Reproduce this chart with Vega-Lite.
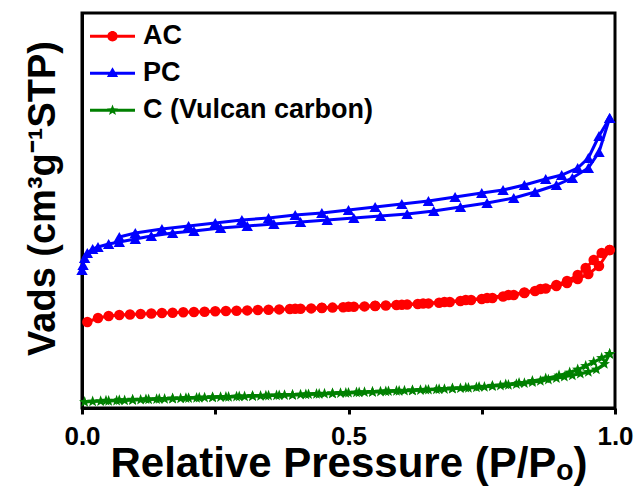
{
"$schema": "https://vega.github.io/schema/vega-lite/v6.json",
"width": 533, "height": 395,
"autosize": {"type": "none"},
"padding": {"left": 82, "top": 13, "right": 24, "bottom": 89},
"config": {"view": {"stroke": "black", "strokeWidth": 3}, "font": "Liberation Sans",
  "axisX": {"labelFontSize": 26, "labelFont": "Liberation Sans", "labelFontWeight": "bold"},
  "legend": {"orient": "none", "legendX": 8, "legendY": 6, "padding": 0, "labelFont": "Liberation Sans", "labelFontSize": 27,
    "labelFontWeight": "bold", "labelColor": "black", "symbolSize": 2025, "clipHeight": 34.5, "labelOffset": 8, "labelLimit": 400, "symbolOpacity": 1, "symbolStrokeWidth": 0}},
"data": {"values": [
{"s":"PC","b":"a","x":0,"y":138},{"s":"PC","b":"a","x":0.002,"y":143},{"s":"PC","b":"a","x":0.005,"y":150},{"s":"PC","b":"a","x":0.01,"y":155},{"s":"PC","b":"a","x":0.02,"y":159},{"s":"PC","b":"a","x":0.03,"y":161},{"s":"PC","b":"a","x":0.05,"y":164},{"s":"PC","b":"a","x":0.07,"y":166},{"s":"PC","b":"a","x":0.1,"y":169},{"s":"PC","b":"a","x":0.13,"y":172},{"s":"PC","b":"a","x":0.17,"y":175},{"s":"PC","b":"a","x":0.21,"y":177},{"s":"PC","b":"a","x":0.26,"y":180},{"s":"PC","b":"a","x":0.31,"y":182},{"s":"PC","b":"a","x":0.36,"y":184},{"s":"PC","b":"a","x":0.41,"y":186},{"s":"PC","b":"a","x":0.46,"y":188},{"s":"PC","b":"a","x":0.51,"y":190},{"s":"PC","b":"a","x":0.56,"y":192},{"s":"PC","b":"a","x":0.61,"y":194},{"s":"PC","b":"a","x":0.66,"y":197},{"s":"PC","b":"a","x":0.71,"y":201},{"s":"PC","b":"a","x":0.76,"y":205},{"s":"PC","b":"a","x":0.81,"y":210},{"s":"PC","b":"a","x":0.85,"y":216},{"s":"PC","b":"a","x":0.89,"y":223},{"s":"PC","b":"a","x":0.92,"y":230},{"s":"PC","b":"a","x":0.95,"y":240},{"s":"PC","b":"a","x":0.97,"y":256},{"s":"PC","b":"a","x":0.99,"y":290},
{"s":"PC","b":"d","x":0.99,"y":290},{"s":"PC","b":"d","x":0.97,"y":272},{"s":"PC","b":"d","x":0.95,"y":250},{"s":"PC","b":"d","x":0.93,"y":240},{"s":"PC","b":"d","x":0.9,"y":233},{"s":"PC","b":"d","x":0.87,"y":229},{"s":"PC","b":"d","x":0.83,"y":223},{"s":"PC","b":"d","x":0.79,"y":218},{"s":"PC","b":"d","x":0.75,"y":215},{"s":"PC","b":"d","x":0.7,"y":211},{"s":"PC","b":"d","x":0.65,"y":207},{"s":"PC","b":"d","x":0.6,"y":204},{"s":"PC","b":"d","x":0.55,"y":201},{"s":"PC","b":"d","x":0.5,"y":198},{"s":"PC","b":"d","x":0.45,"y":195},{"s":"PC","b":"d","x":0.4,"y":193},{"s":"PC","b":"d","x":0.35,"y":190},{"s":"PC","b":"d","x":0.3,"y":188},{"s":"PC","b":"d","x":0.25,"y":185},{"s":"PC","b":"d","x":0.2,"y":182},{"s":"PC","b":"d","x":0.15,"y":179},{"s":"PC","b":"d","x":0.1,"y":175},{"s":"PC","b":"d","x":0.07,"y":171},
{"s":"AC","b":"a","x":0.01,"y":86},{"s":"AC","b":"a","x":0.03,"y":90},{"s":"AC","b":"a","x":0.05,"y":92},{"s":"AC","b":"a","x":0.07,"y":93},{"s":"AC","b":"a","x":0.09,"y":93.5},{"s":"AC","b":"a","x":0.11,"y":94},{"s":"AC","b":"a","x":0.13,"y":94.5},{"s":"AC","b":"a","x":0.15,"y":95},{"s":"AC","b":"a","x":0.17,"y":95.3},{"s":"AC","b":"a","x":0.19,"y":95.7},{"s":"AC","b":"a","x":0.21,"y":96},{"s":"AC","b":"a","x":0.23,"y":96.3},{"s":"AC","b":"a","x":0.25,"y":96.7},{"s":"AC","b":"a","x":0.27,"y":97},{"s":"AC","b":"a","x":0.29,"y":97.3},{"s":"AC","b":"a","x":0.31,"y":97.6},{"s":"AC","b":"a","x":0.33,"y":98},{"s":"AC","b":"a","x":0.35,"y":98.3},{"s":"AC","b":"a","x":0.37,"y":98.6},{"s":"AC","b":"a","x":0.39,"y":99},{"s":"AC","b":"a","x":0.41,"y":99.3},{"s":"AC","b":"a","x":0.43,"y":99.6},{"s":"AC","b":"a","x":0.45,"y":100},{"s":"AC","b":"a","x":0.47,"y":100.4},{"s":"AC","b":"a","x":0.49,"y":100.8},{"s":"AC","b":"a","x":0.51,"y":101.2},{"s":"AC","b":"a","x":0.53,"y":101.6},{"s":"AC","b":"a","x":0.55,"y":102},{"s":"AC","b":"a","x":0.57,"y":102.5},{"s":"AC","b":"a","x":0.59,"y":103},{"s":"AC","b":"a","x":0.61,"y":103.5},{"s":"AC","b":"a","x":0.63,"y":104},{"s":"AC","b":"a","x":0.65,"y":104.6},{"s":"AC","b":"a","x":0.67,"y":105.3},{"s":"AC","b":"a","x":0.69,"y":106},{"s":"AC","b":"a","x":0.71,"y":107},{"s":"AC","b":"a","x":0.73,"y":108},{"s":"AC","b":"a","x":0.75,"y":109},{"s":"AC","b":"a","x":0.77,"y":110},{"s":"AC","b":"a","x":0.79,"y":111.5},{"s":"AC","b":"a","x":0.81,"y":113},{"s":"AC","b":"a","x":0.83,"y":115},{"s":"AC","b":"a","x":0.85,"y":117},{"s":"AC","b":"a","x":0.87,"y":119.5},{"s":"AC","b":"a","x":0.89,"y":122},{"s":"AC","b":"a","x":0.91,"y":125},{"s":"AC","b":"a","x":0.93,"y":129},{"s":"AC","b":"a","x":0.95,"y":134},{"s":"AC","b":"a","x":0.97,"y":142},{"s":"AC","b":"a","x":0.99,"y":158},
{"s":"AC","b":"d","x":0.99,"y":158},{"s":"AC","b":"d","x":0.975,"y":155},{"s":"AC","b":"d","x":0.96,"y":148},{"s":"AC","b":"d","x":0.945,"y":140},{"s":"AC","b":"d","x":0.93,"y":133},{"s":"AC","b":"d","x":0.91,"y":127},{"s":"AC","b":"d","x":0.89,"y":123},{"s":"AC","b":"d","x":0.86,"y":119},{"s":"AC","b":"d","x":0.83,"y":115.5},{"s":"AC","b":"d","x":0.8,"y":113},{"s":"AC","b":"d","x":0.76,"y":110},{"s":"AC","b":"d","x":0.72,"y":108},{"s":"AC","b":"d","x":0.68,"y":106},{"s":"AC","b":"d","x":0.64,"y":104.5},{"s":"AC","b":"d","x":0.6,"y":103.3},{"s":"AC","b":"d","x":0.55,"y":102.2},{"s":"AC","b":"d","x":0.5,"y":101.2},{"s":"AC","b":"d","x":0.45,"y":100.2},{"s":"AC","b":"d","x":0.4,"y":99.3},
{"s":"C (Vulcan carbon)","b":"a","x":0.005,"y":6},{"s":"C (Vulcan carbon)","b":"a","x":0.02,"y":6.5},{"s":"C (Vulcan carbon)","b":"a","x":0.035,"y":6.8},{"s":"C (Vulcan carbon)","b":"a","x":0.05,"y":7},{"s":"C (Vulcan carbon)","b":"a","x":0.065,"y":7.3},{"s":"C (Vulcan carbon)","b":"a","x":0.08,"y":7.6},{"s":"C (Vulcan carbon)","b":"a","x":0.095,"y":7.9},{"s":"C (Vulcan carbon)","b":"a","x":0.11,"y":8.2},{"s":"C (Vulcan carbon)","b":"a","x":0.125,"y":8.5},{"s":"C (Vulcan carbon)","b":"a","x":0.14,"y":8.8},{"s":"C (Vulcan carbon)","b":"a","x":0.155,"y":9},{"s":"C (Vulcan carbon)","b":"a","x":0.17,"y":9.3},{"s":"C (Vulcan carbon)","b":"a","x":0.185,"y":9.6},{"s":"C (Vulcan carbon)","b":"a","x":0.2,"y":9.9},{"s":"C (Vulcan carbon)","b":"a","x":0.215,"y":10.1},{"s":"C (Vulcan carbon)","b":"a","x":0.23,"y":10.4},{"s":"C (Vulcan carbon)","b":"a","x":0.245,"y":10.6},{"s":"C (Vulcan carbon)","b":"a","x":0.26,"y":10.9},{"s":"C (Vulcan carbon)","b":"a","x":0.275,"y":11.1},{"s":"C (Vulcan carbon)","b":"a","x":0.29,"y":11.4},{"s":"C (Vulcan carbon)","b":"a","x":0.305,"y":11.6},{"s":"C (Vulcan carbon)","b":"a","x":0.32,"y":11.9},{"s":"C (Vulcan carbon)","b":"a","x":0.335,"y":12.1},{"s":"C (Vulcan carbon)","b":"a","x":0.35,"y":12.4},{"s":"C (Vulcan carbon)","b":"a","x":0.365,"y":12.6},{"s":"C (Vulcan carbon)","b":"a","x":0.38,"y":12.9},{"s":"C (Vulcan carbon)","b":"a","x":0.395,"y":13.1},{"s":"C (Vulcan carbon)","b":"a","x":0.41,"y":13.4},{"s":"C (Vulcan carbon)","b":"a","x":0.425,"y":13.7},{"s":"C (Vulcan carbon)","b":"a","x":0.44,"y":14},{"s":"C (Vulcan carbon)","b":"a","x":0.455,"y":14.3},{"s":"C (Vulcan carbon)","b":"a","x":0.47,"y":14.6},{"s":"C (Vulcan carbon)","b":"a","x":0.485,"y":14.9},{"s":"C (Vulcan carbon)","b":"a","x":0.5,"y":15.2},{"s":"C (Vulcan carbon)","b":"a","x":0.515,"y":15.5},{"s":"C (Vulcan carbon)","b":"a","x":0.53,"y":15.8},{"s":"C (Vulcan carbon)","b":"a","x":0.545,"y":16.1},{"s":"C (Vulcan carbon)","b":"a","x":0.56,"y":16.4},{"s":"C (Vulcan carbon)","b":"a","x":0.575,"y":16.7},{"s":"C (Vulcan carbon)","b":"a","x":0.59,"y":17},{"s":"C (Vulcan carbon)","b":"a","x":0.605,"y":17.3},{"s":"C (Vulcan carbon)","b":"a","x":0.62,"y":17.6},{"s":"C (Vulcan carbon)","b":"a","x":0.635,"y":17.9},{"s":"C (Vulcan carbon)","b":"a","x":0.65,"y":18.2},{"s":"C (Vulcan carbon)","b":"a","x":0.665,"y":18.5},{"s":"C (Vulcan carbon)","b":"a","x":0.68,"y":18.9},{"s":"C (Vulcan carbon)","b":"a","x":0.695,"y":19.3},{"s":"C (Vulcan carbon)","b":"a","x":0.71,"y":19.7},{"s":"C (Vulcan carbon)","b":"a","x":0.725,"y":20.1},{"s":"C (Vulcan carbon)","b":"a","x":0.74,"y":20.6},{"s":"C (Vulcan carbon)","b":"a","x":0.755,"y":21.1},{"s":"C (Vulcan carbon)","b":"a","x":0.77,"y":21.7},{"s":"C (Vulcan carbon)","b":"a","x":0.785,"y":22.4},{"s":"C (Vulcan carbon)","b":"a","x":0.8,"y":23.1},{"s":"C (Vulcan carbon)","b":"a","x":0.815,"y":23.9},{"s":"C (Vulcan carbon)","b":"a","x":0.83,"y":24.8},{"s":"C (Vulcan carbon)","b":"a","x":0.845,"y":25.8},{"s":"C (Vulcan carbon)","b":"a","x":0.86,"y":27},{"s":"C (Vulcan carbon)","b":"a","x":0.875,"y":28.4},{"s":"C (Vulcan carbon)","b":"a","x":0.89,"y":29.8},{"s":"C (Vulcan carbon)","b":"a","x":0.905,"y":31.2},{"s":"C (Vulcan carbon)","b":"a","x":0.92,"y":32.6},{"s":"C (Vulcan carbon)","b":"a","x":0.935,"y":34.2},{"s":"C (Vulcan carbon)","b":"a","x":0.95,"y":36},{"s":"C (Vulcan carbon)","b":"a","x":0.965,"y":38.5},{"s":"C (Vulcan carbon)","b":"a","x":0.98,"y":44},{"s":"C (Vulcan carbon)","b":"a","x":0.99,"y":54},
{"s":"C (Vulcan carbon)","b":"d","x":0.99,"y":54},{"s":"C (Vulcan carbon)","b":"d","x":0.975,"y":50},{"s":"C (Vulcan carbon)","b":"d","x":0.96,"y":46},{"s":"C (Vulcan carbon)","b":"d","x":0.945,"y":42},{"s":"C (Vulcan carbon)","b":"d","x":0.93,"y":38.5},{"s":"C (Vulcan carbon)","b":"d","x":0.915,"y":35.5},{"s":"C (Vulcan carbon)","b":"d","x":0.895,"y":32.5},{"s":"C (Vulcan carbon)","b":"d","x":0.87,"y":29.5},{"s":"C (Vulcan carbon)","b":"d","x":0.845,"y":27},{"s":"C (Vulcan carbon)","b":"d","x":0.82,"y":25},{"s":"C (Vulcan carbon)","b":"d","x":0.795,"y":23.5},{"s":"C (Vulcan carbon)","b":"d","x":0.77,"y":22.2},{"s":"C (Vulcan carbon)","b":"d","x":0.745,"y":21.2},{"s":"C (Vulcan carbon)","b":"d","x":0.72,"y":20.3},{"s":"C (Vulcan carbon)","b":"d","x":0.695,"y":19.5},{"s":"C (Vulcan carbon)","b":"d","x":0.67,"y":18.8},{"s":"C (Vulcan carbon)","b":"d","x":0.645,"y":18.2},{"s":"C (Vulcan carbon)","b":"d","x":0.62,"y":17.6},{"s":"C (Vulcan carbon)","b":"d","x":0.595,"y":17.1},{"s":"C (Vulcan carbon)","b":"d","x":0.57,"y":16.6},{"s":"C (Vulcan carbon)","b":"d","x":0.545,"y":16.1},{"s":"C (Vulcan carbon)","b":"d","x":0.52,"y":15.6},{"s":"C (Vulcan carbon)","b":"d","x":0.495,"y":15.1},{"s":"C (Vulcan carbon)","b":"d","x":0.47,"y":14.6},{"s":"C (Vulcan carbon)","b":"d","x":0.445,"y":14.1},{"s":"C (Vulcan carbon)","b":"d","x":0.42,"y":13.6},{"s":"C (Vulcan carbon)","b":"d","x":0.395,"y":13.1},{"s":"C (Vulcan carbon)","b":"d","x":0.37,"y":12.7},{"s":"C (Vulcan carbon)","b":"d","x":0.345,"y":12.3},{"s":"C (Vulcan carbon)","b":"d","x":0.32,"y":11.9},{"s":"C (Vulcan carbon)","b":"d","x":0.295,"y":11.5},{"s":"C (Vulcan carbon)","b":"d","x":0.27,"y":11.1},{"s":"C (Vulcan carbon)","b":"d","x":0.245,"y":10.7},{"s":"C (Vulcan carbon)","b":"d","x":0.22,"y":10.3},{"s":"C (Vulcan carbon)","b":"d","x":0.195,"y":9.9},{"s":"C (Vulcan carbon)","b":"d","x":0.17,"y":9.5},{"s":"C (Vulcan carbon)","b":"d","x":0.145,"y":9.1},{"s":"C (Vulcan carbon)","b":"d","x":0.12,"y":8.7},{"s":"C (Vulcan carbon)","b":"d","x":0.095,"y":8.3},{"s":"C (Vulcan carbon)","b":"d","x":0.07,"y":7.8},{"s":"C (Vulcan carbon)","b":"d","x":0.045,"y":7.3}
]},
"encoding": {
  "x": {"field": "x", "type": "quantitative", "scale": {"domain": [0, 1]},
    "axis": {"values": [0, 0.25, 0.5, 0.75, 1], "labelExpr": "datum.value == 0.25 || datum.value == 0.75 ? '' : format(datum.value, '.1f')",
      "title": "Relative Pressure (P/Pₒ)", "grid": false, "domainColor": "black", "domainWidth": 3,
      "tickColor": "black", "tickWidth": 3, "tickSize": 6, "labelFont": "Liberation Sans", "labelFontSize": 26,
      "labelFontWeight": "bold", "labelColor": "black", "labelPadding": 9, "labelFlush": false, "labelOverlap": false, "labelBound": false,
      "titleFont": "Liberation Sans", "titleFontSize": 42, "titleFontWeight": "bold", "titleColor": "black", "titlePadding": -6}},
  "y": {"field": "y", "type": "quantitative", "scale": {"domain": [0, 395]},
    "axis": {"title": "Vads (cm³g⁻¹STP)", "labels": false, "ticks": false, "grid": false, "domainColor": "black", "domainWidth": 3,
      "titleFont": "Liberation Sans", "titleFontSize": 38, "titleFontWeight": "bold", "titleColor": "black", "titlePadding": 20, "titleY": 185}}
},
"layer": [
  {"transform": [{"filter": "datum.s == 'AC'"}], "mark": {"type": "line", "strokeWidth": 3, "color": "#FF0000"}, "encoding": {"detail": {"field": "b"}}},
  {"transform": [{"filter": "datum.s == 'PC'"}], "mark": {"type": "line", "strokeWidth": 3, "color": "#0000FF"}, "encoding": {"detail": {"field": "b"}}},
  {"transform": [{"filter": "datum.s == 'C (Vulcan carbon)'"}], "mark": {"type": "line", "strokeWidth": 3, "color": "#008000"}, "encoding": {"detail": {"field": "b"}}},
  {"transform": [{"filter": "datum.s == 'AC'"}],
   "mark": {"type": "point", "shape": "circle", "filled": true, "opacity": 1, "size": 110, "color": "#FF0000"}},
  {"transform": [{"filter": "datum.s == 'PC'"}],
   "mark": {"type": "point", "shape": "triangle-up", "filled": true, "opacity": 1, "size": 130, "color": "#0000FF"}},
  {"transform": [{"filter": "datum.s == 'C (Vulcan carbon)'"}],
   "mark": {"type": "point", "shape": "M0,-1L0.247,-0.34L0.951,-0.309L0.399,0.13L0.588,0.809L0,0.42L-0.588,0.809L-0.399,0.13L-0.951,-0.309L-0.247,-0.34Z", "filled": true, "opacity": 1, "size": 140, "color": "#008000"}},
  {"mark": {"type": "point", "filled": true, "opacity": 0},
   "encoding": {
     "color": {"field": "s", "type": "nominal", "legend": {"title": null},
       "scale": {"domain": ["AC", "PC", "C (Vulcan carbon)"], "range": ["#FF0000", "#0000FF", "#008000"]}},
     "shape": {"field": "s", "type": "nominal", "legend": {"title": null},
       "scale": {"domain": ["AC", "PC", "C (Vulcan carbon)"], "range": [
         "M-1,-0.07H1V0.07H-1Z M0.23,0A0.23,0.23,0,1,1,-0.23,0A0.23,0.23,0,1,1,0.23,0Z",
         "M-1,-0.07H1V0.07H-1Z M0,-0.27L0.25,0.17L-0.25,0.17Z",
         "M-1,-0.07H1V0.07H-1Z M0,-0.26L0.064,-0.088L0.247,-0.08L0.104,0.034L0.153,0.21L0,0.109L-0.153,0.21L-0.104,0.034L-0.247,-0.08L-0.064,-0.088Z"]}}
   }}
]
}
